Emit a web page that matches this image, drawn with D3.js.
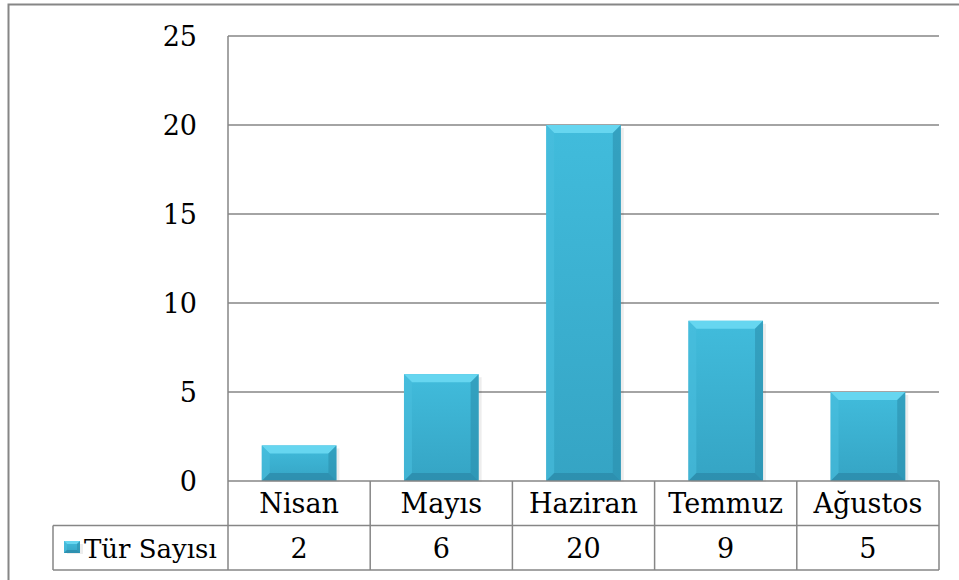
<!DOCTYPE html>
<html>
<head>
<meta charset="utf-8">
<script src="https://cdn.jsdelivr.net/npm/d3@7"></script>
<style>
body { margin: 0; background: #fff; }
</style>
</head>
<body>
<svg></svg>
<script>
const months = ["Nisan", "Mayıs", "Haziran", "Temmuz", "Ağustos"];
const values = [2, 6, 20, 9, 5];
const yTicks = [0, 5, 10, 15, 20, 25];
const seriesName = "Tür Sayısı";

const svg_width = 959;
const svg_height = 580;
const plot = { left: 228, right: 939, top: 36, bottom: 481 };
const rowH = 44.5;
const legendLeft = 53;
const grey = "#868686";
const fontSize = 27;
const fontFamily = "DejaVu Serif, serif";

const svg = d3.select("svg")
    .attr("width", svg_width)
    .attr("height", svg_height)
    .attr("font-family", fontFamily);

const defs = svg.append("defs");
const grad = defs.append("linearGradient")
    .attr("id", "barGrad")
    .attr("x1", 0).attr("y1", 0).attr("x2", 0).attr("y2", 1);
grad.append("stop").attr("offset", "0%").attr("stop-color", "#41bcdc");
grad.append("stop").attr("offset", "100%").attr("stop-color", "#35a4c4");

// outer chart border (runs off the page on the right and bottom)
svg.append("rect")
    .attr("x", 8.5).attr("y", 4.5)
    .attr("width", 1000).attr("height", 600)
    .attr("fill", "none")
    .attr("stroke", grey)
    .attr("stroke-width", 2);

const xScale = d3.scaleBand() // category
    .range([plot.left, plot.right])
    .domain(months)
    .padding(0);

const yScale = d3.scaleLinear() // quantitative
    .range([plot.bottom, plot.top])
    .domain([0, 25]);

// gridlines
svg.append("g").selectAll("line")
    .data(yTicks.filter(d => d > 0))
    .enter()
    .append("line")
    .attr("x1", plot.left).attr("x2", plot.right)
    .attr("y1", d => yScale(d)).attr("y2", d => yScale(d))
    .attr("stroke", grey)
    .attr("stroke-width", 1.5);

// y labels
svg.append("g").selectAll("text")
    .data(yTicks)
    .enter()
    .append("text")
    .attr("x", 197)
    .attr("y", d => yScale(d) + 10)
    .attr("text-anchor", "end")
    .attr("font-size", fontSize)
    .text(d => d);

// bars with bevel
const barW = xScale.bandwidth() * 0.525;
const bev = 8;

function bevelBar(g, x0, y0, w, h, b) {
    b = Math.min(b, h / 2, w / 2);
    g.append("rect")
        .attr("x", x0 + 3).attr("y", y0 + 3)
        .attr("width", w).attr("height", h - 2)
        .attr("fill", "#000").attr("opacity", 0.07);
    g.append("rect")
        .attr("x", x0).attr("y", y0)
        .attr("width", w).attr("height", h)
        .attr("fill", "url(#barGrad)");
    const poly = (pts, fill, op) => g.append("polygon")
        .attr("points", pts.map(p => p.join(",")).join(" "))
        .attr("fill", fill).attr("opacity", op);
    poly([[x0, y0], [x0 + w, y0], [x0 + w - b, y0 + b], [x0 + b, y0 + b]], "#66d6f0", 1);
    poly([[x0, y0], [x0 + b, y0 + b], [x0 + b, y0 + h - b], [x0, y0 + h]], "#49bedd", 0.6);
    poly([[x0 + w, y0], [x0 + w - b, y0 + b], [x0 + w - b, y0 + h - b], [x0 + w, y0 + h]], "#2c90ae", 0.6);
    poly([[x0, y0 + h], [x0 + b, y0 + h - b], [x0 + w - b, y0 + h - b], [x0 + w, y0 + h]], "#2b88a6", 0.7);
}

const barsG = svg.append("g");
months.forEach((m, i) => {
    const x0 = xScale(m) + (xScale.bandwidth() - barW) / 2;
    const y0 = yScale(values[i]);
    bevelBar(barsG.append("g"), x0, y0, barW, yScale(0) - y0, bev);
});

// data table
const table = svg.append("g");
const r1 = plot.bottom, r2 = plot.bottom + rowH, r3 = plot.bottom + 2 * rowH;
const hline = (x1, x2, y) => table.append("line")
    .attr("x1", x1).attr("x2", x2).attr("y1", y).attr("y2", y)
    .attr("stroke", grey).attr("stroke-width", 1.5);
const vline = (x, y1, y2) => table.append("line")
    .attr("x1", x).attr("x2", x).attr("y1", y1).attr("y2", y2)
    .attr("stroke", grey).attr("stroke-width", 1.5);

hline(plot.left, plot.right, r1);
hline(legendLeft, plot.right, r2);
hline(legendLeft, plot.right, r3);
vline(plot.left, plot.top, r3);
vline(legendLeft, r2, r3);
months.forEach(m => vline(xScale(m) + xScale.bandwidth(), r1, r3));

table.selectAll("text.cat")
    .data(months)
    .enter()
    .append("text")
    .attr("class", "cat")
    .attr("x", d => xScale(d) + xScale.bandwidth() / 2)
    .attr("y", r1 + 32)
    .attr("text-anchor", "middle")
    .attr("font-size", fontSize)
    .text(d => d);

table.selectAll("text.val")
    .data(values)
    .enter()
    .append("text")
    .attr("class", "val")
    .attr("x", (d, i) => xScale(months[i]) + xScale.bandwidth() / 2)
    .attr("y", r2 + 32)
    .attr("text-anchor", "middle")
    .attr("font-size", fontSize)
    .text(d => d);

// legend key
bevelBar(table.append("g"), 64, 541, 16, 12, 3);
table.append("text")
    .attr("x", 84)
    .attr("y", r2 + 32)
    .attr("font-size", 26)
    .text(seriesName);
</script>
</body>
</html>
